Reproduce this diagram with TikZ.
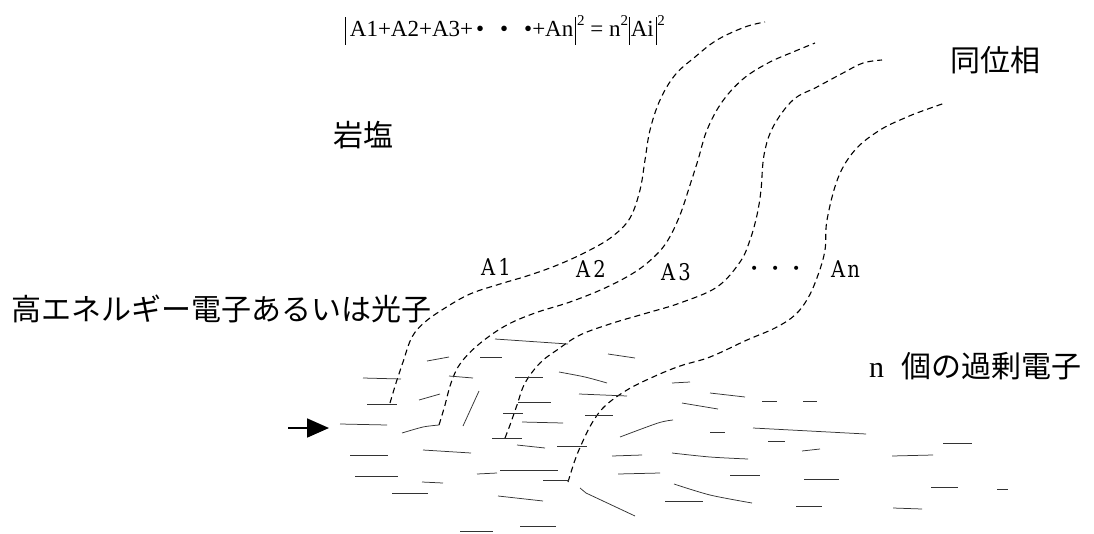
\documentclass[tikz,border=0pt]{standalone}
\usepackage{fontspec}
\usetikzlibrary{arrows.meta}
\setmainfont{Liberation Serif}
\newfontfamily\jpfont{Noto Sans CJK JP}
\newfontfamily\ampfont{DejaVu Serif}[FakeStretch=0.85]
\newfontfamily\symfont{DejaVu Sans}
% absolute-value bar and squared exponent of the formula
\newcommand{\fmbar}{\rule[-8.5pt]{0.7pt}{28pt}}
\newcommand{\fmsq}{\raisebox{11pt}{\fontsize{15}{15}\selectfont 2}}

\begin{document}
\begin{tikzpicture}[x=1pt,y=-1pt,
  wave/.style={line width=1.1pt, dash pattern=on 6pt off 4pt},
  grain/.style={line width=0.75pt, black!80},
  jp/.style={anchor=base west, inner sep=0pt, font=\jpfont\fontsize{30}{30}\selectfont},
  amp/.style={anchor=base west, inner sep=0pt, font=\ampfont\fontsize{23}{23}\selectfont},
]
\useasboundingbox (0,0) rectangle (1094,533);

% formula
\node[anchor=base west, inner sep=0pt, font=\fontsize{23}{23}\selectfont] (formula) at (345,36)
  {\fmbar\kern4pt A1+A2+A3+\hspace{3pt}•\hspace{16pt}•\hspace{16pt}•+An\kern2pt\fmbar\kern1pt\fmsq\ = n\fmsq\kern1pt\fmbar\kern1pt Ai\kern2pt\fmbar\kern1pt\fmsq};

% Japanese labels
\node[jp] (rocksalt) at (333,146) {岩塩};
\node[jp] (inphase) at (950,71) {同位相};
\node[jp] (incident) at (11,320) {高エネルギー電子あるいは光子};
\node[anchor=base west, inner sep=0pt, font=\fontsize{30}{30}\selectfont] (excess) at (869,377)
  {n\hspace{17pt}{\jpfont 個の過剰電子}};

% amplitude labels
\node[amp] (a1) at (481,275) {A\hspace{3pt}1};
\node[amp] (a2) at (576,277) {A\hspace{3pt}2};
\node[amp] (a3) at (661,280) {A\hspace{3pt}3};
\node[anchor=base west, inner sep=0pt, font=\symfont\fontsize{14}{14}\selectfont] (dots) at (750,273)
  {•\hspace{12.7pt}•\hspace{12.7pt}•};
\node[amp] (an) at (831,277) {A\hspace{2pt}n};

% incoming beam
\coordinate (beamtail) at (288,428);
\coordinate (beamtip) at (329,428);
\draw[line width=1.8pt, -{Triangle[length=22pt,width=19pt]}] (beamtail) -- (beamtip);

% scattered waves
\draw[wave] plot[smooth, tension=0.6] coordinates {(390,403) (396,383) (403,362) (412,337) (425,322) (445,308) (470,294) (500,284) (530,275) (560,264) (590,250) (613,236) (630,218) (640,190) (645,160) (650,130) (660,100) (675,75) (695,57) (717,40) (745,27) (765,22)};
\draw[wave] plot[smooth, tension=0.6] coordinates {(439,425) (445,405) (451,383) (460,364) (478,345) (505,326) (535,313) (570,302) (605,288) (635,272) (655,256) (668,240) (680,215) (690,185) (698,160) (707,130) (722,102) (743,79) (768,63) (793,52) (815,43)};
\draw[wave] plot[smooth, tension=0.6] coordinates {(505,438) (510,425) (517,405) (525,383) (540,363) (557,350) (580,335) (613,323) (647,313) (680,303) (717,287) (740,262) (750,240) (757,215) (761,190) (764,155) (773,127) (793,100) (817,87) (843,73) (863,63) (882,60)};
\draw[wave] plot[smooth, tension=0.6] coordinates {(568,482) (575,460) (582,443) (592,423) (605,406) (627,390) (653,377) (680,366) (710,357) (747,340) (775,328) (795,315) (808,298) (818,275) (825,250) (827,220) (838,178) (855,150) (880,130) (907,117) (925,110) (945,103)};

% crystal lattice strokes
\draw[grain] (495,339) -- (568,344);
\draw[grain] (427,361) -- (449,357);
\draw[grain] (480,357) -- (502,357);
\draw[grain] (608,354) -- (635,358);
\draw[grain] (363,378) -- (401,379);
\draw[grain] (449,376) -- (473,378);
\draw[grain] (515,377) -- (543,377);
\draw[grain] plot[smooth] coordinates {(559,372) (585,377) (607,383)};
\draw[grain] (367,404) -- (397,404);
\draw[grain] (419,400) -- (440,394);
\draw[grain] (479,391) -- (463,426);
\draw[grain] (518,402) -- (551,402);
\draw[grain] (579,394) -- (627,396);
\draw[grain] (503,413) -- (523,413);
\draw[grain] (585,415) -- (613,415);
\draw[grain] (340,424) -- (387,425);
\draw[grain] plot[smooth] coordinates {(402,433) (423,427) (439,425)};
\draw[grain] (522,422) -- (563,423);
\draw[grain] plot[smooth] coordinates {(620,437) (658,423) (673,420)};
\draw[grain] (492,438) -- (522,438);
\draw[grain] (517,445) -- (545,448);
\draw[grain] (557,446) -- (587,446);
\draw[grain] (350,455) -- (388,455);
\draw[grain] (423,450) -- (471,453);
\draw[grain] (612,456) -- (642,455);
\draw[grain] (355,476) -- (398,476);
\draw[grain] (422,482) -- (443,483);
\draw[grain] (477,474) -- (497,473);
\draw[grain] (500,470) -- (558,470);
\draw[grain] (543,480) -- (569,480);
\draw[grain] (618,474) -- (660,473);
\draw[grain] (392,493) -- (428,493);
\draw[grain] (498,496) -- (543,501);
\draw[grain] (580,488) -- (586,493) -- (635,516);
\draw[grain] (520,526) -- (556,526);
\draw[grain] (460,531) -- (493,531);
\draw[grain] (672,383) -- (690,382);
\draw[grain] (710,393) -- (745,397);
\draw[grain] (762,401) -- (777,401);
\draw[grain] (803,401) -- (817,401);
\draw[grain] (682,403) -- (718,409);
\draw[grain] (710,432) -- (725,432);
\draw[grain] (753,428) -- (866,434);
\draw[grain] (768,441) -- (785,441);
\draw[grain] (802,451) -- (820,449);
\draw[grain] (943,443) -- (972,443);
\draw[grain] plot[smooth] coordinates {(672,453) (710,457) (748,459)};
\draw[grain] (892,456) -- (933,455);
\draw[grain] (730,475) -- (760,475);
\draw[grain] (804,479) -- (839,479);
\draw[grain] (931,487) -- (958,487);
\draw[grain] (997,489) -- (1008,489);
\draw[grain] plot[smooth] coordinates {(674,484) (710,495) (752,503)};
\draw[grain] (665,501) -- (703,501);
\draw[grain] (796,506) -- (822,506);
\draw[grain] (893,508) -- (922,509);
\end{tikzpicture}
\end{document}
